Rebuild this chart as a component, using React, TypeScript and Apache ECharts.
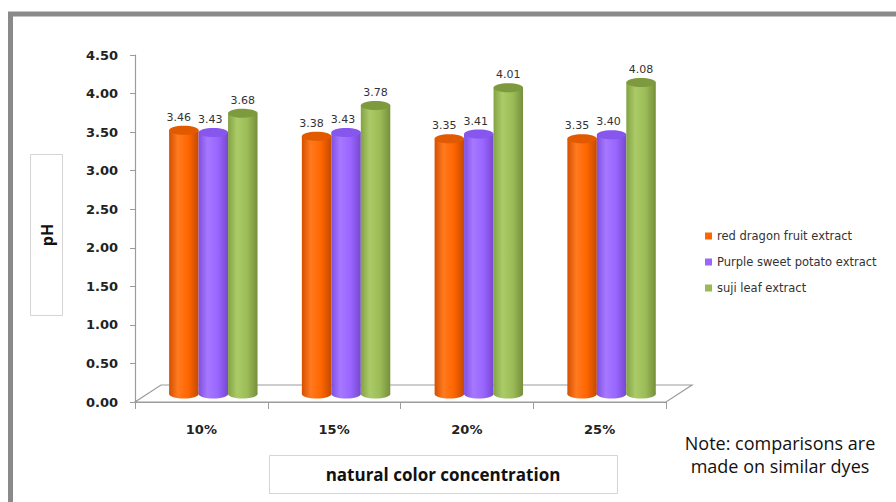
import React, { useEffect, useRef } from 'react';
import * as echarts from 'echarts';

const categories = ['10%', '15%', '20%', '25%'];
const seriesNames = ['red dragon fruit extract', 'Purple sweet potato extract', 'suji leaf extract'];
const redDragon = [3.46, 3.38, 3.35, 3.35];
const purplePotato = [3.43, 3.43, 3.41, 3.40];
const sujiLeaf = [3.68, 3.78, 4.01, 4.08];
const seriesValues = [redDragon, purplePotato, sujiLeaf];
const yAxisTitle = 'pH';
const xAxisTitle = 'natural color concentration';
const noteText = 'Note: comparisons are\nmade on similar dyes';

const colors = ['#FF6600', '#9966FF', '#99BB55'];
const bodyStops = [
  ['#D45000', '#FF7A1F', '#FF6600', '#C44A00'],
  ['#7F4FE0', '#A678FF', '#9966FF', '#7748D0'],
  ['#83A244', '#ABCB68', '#9CBC58', '#768F3B'],
];
const topColors = ['#E25A00', '#8656EE', '#7D9B3E'];
const labelDx = [-5, -3, 0];

function cylinderRenderer(s: number) {
  return (params: any, api: any) => {
    const idx = api.value(0);
    const v = api.value(1);
    const base = api.coord([idx, 0]);
    const top = api.coord([idx, v]);
    const band = api.size([1, 0])[0];
    const w = band * 0.222;
    const groupC = base[0] + band * 0.09;
    const cx = groupC + (s - 1) * w;
    const x0 = cx - w / 2;
    const yTop = top[1] - 5;
    const yBot = base[1] - 8;
    const ry = 4.5;
    const st = bodyStops[s];
    const grad = new echarts.graphic.LinearGradient(0, 0, 1, 0, [
      { offset: 0, color: st[0] },
      { offset: 0.3, color: st[1] },
      { offset: 0.65, color: st[2] },
      { offset: 1, color: st[3] },
    ]);
    return {
      type: 'group',
      children: [
        { type: 'rect', shape: { x: x0, y: yTop, width: w, height: yBot - yTop }, style: { fill: grad } },
        { type: 'ellipse', shape: { cx, cy: yBot, rx: w / 2, ry }, style: { fill: grad } },
        { type: 'ellipse', shape: { cx, cy: yTop, rx: w / 2, ry }, style: { fill: topColors[s] } },
        {
          type: 'text',
          style: {
            text: Number(v).toFixed(2),
            x: cx + labelDx[s],
            y: yTop - 13,
            align: 'center',
            verticalAlign: 'middle',
            fontSize: 11,
            fontFamily: 'DejaVu Sans',
            fill: '#333',
          },
        },
      ],
    };
  };
}

function floorRenderer(params: any, api: any) {
  const cs = params.coordSys;
  const y0 = api.coord([0, 0])[1];
  const xl = cs.x;
  const xr = cs.x + cs.width;
  const dx = 26;
  const dy = -17;
  return {
    type: 'polygon',
    shape: { points: [[xl, y0], [xr, y0], [xr + dx, y0 + dy], [xl + dx, y0 + dy]] },
    style: { fill: '#fff', stroke: '#9c9c9c', lineWidth: 1.2 },
    silent: true,
  };
}

export default function App() {
  const ref = useRef<HTMLDivElement>(null);
  useEffect(() => {
    if (!ref.current) return;
    const chart = echarts.init(ref.current, null, { renderer: 'svg' });
    const option: any = {
      animation: false,
      backgroundColor: '#fff',
      color: colors,
      grid: { left: 135, right: 230, top: 55, bottom: 100, containLabel: false },
      legend: {
        orient: 'vertical',
        left: 700,
        top: 225,
        icon: 'rect',
        itemWidth: 7,
        itemHeight: 7,
        itemGap: 14,
        data: seriesNames,
        textStyle: { fontSize: 11.5, fontFamily: 'DejaVu Sans', color: '#333' },
      },
      xAxis: {
        type: 'category',
        data: categories,
        axisLine: { show: true, lineStyle: { color: '#9c9c9c', width: 1.2 } },
        axisTick: { show: true, length: 7, lineStyle: { color: '#9c9c9c' } },
        axisLabel: { fontSize: 13, fontWeight: 'bold', fontFamily: 'DejaVu Sans', color: '#222', margin: 21 },
        splitLine: { show: false },
      },
      yAxis: {
        type: 'value',
        min: 0,
        max: 4.5,
        interval: 0.5,
        axisLine: { show: true, lineStyle: { color: '#9c9c9c', width: 1.2 } },
        axisTick: { show: true, length: 5, lineStyle: { color: '#9c9c9c' } },
        axisLabel: {
          fontSize: 13,
          fontWeight: 'bold',
          fontFamily: 'DejaVu Sans',
          color: '#222',
          margin: 17,
          formatter: (v: number) => v.toFixed(2),
        },
        splitLine: { show: false },
      },
      series: [
        {
          type: 'custom',
          name: 'floor',
          renderItem: floorRenderer,
          data: [[0, 0]],
          silent: true,
          z: 1,
          legendHoverLink: false,
        },
        ...seriesValues.map((vals, s) => ({
          type: 'custom',
          name: seriesNames[s],
          itemStyle: { color: colors[s] },
          renderItem: cylinderRenderer(s),
          encode: { x: 0, y: 1 },
          data: vals.map((v, i) => [i, v]),
          z: 2 + s,
        })),
      ],
      graphic: [
        {
          type: 'rect',
          shape: { x: 10.5, y: 14, width: 1000, height: 600 },
          style: { fill: 'none', stroke: '#8a8a8a', lineWidth: 5 },
          silent: true,
        },
        {
          type: 'rect',
          shape: { x: 30.5, y: 154.5, width: 32, height: 161 },
          style: { fill: '#fff', stroke: '#d4d4d4', lineWidth: 1 },
        },
        {
          type: 'text',
          x: 47,
          y: 235,
          rotation: Math.PI / 2,
          style: {
            text: yAxisTitle,
            align: 'center',
            verticalAlign: 'middle',
            fontSize: 16,
            fontWeight: 'bold',
            fontFamily: 'Open Sans',
            fill: '#111',
          },
        },
        {
          type: 'rect',
          shape: { x: 269.5, y: 455.5, width: 348, height: 38 },
          style: { fill: '#fff', stroke: '#d4d4d4', lineWidth: 1 },
        },
        {
          type: 'text',
          x: 443,
          y: 474,
          style: {
            text: xAxisTitle,
            align: 'center',
            verticalAlign: 'middle',
            fontSize: 17,
            fontWeight: 'bold',
            fontFamily: 'Open Sans',
            fill: '#111',
          },
        },
        {
          type: 'text',
          x: 780,
          y: 454,
          style: {
            text: noteText,
            align: 'center',
            verticalAlign: 'middle',
            fontSize: 18,
            lineHeight: 23,
            fontFamily: 'Open Sans',
            fill: '#111',
          },
        },
      ],
    };
    chart.setOption(option);
    return () => chart.dispose();
  }, []);
  return <div ref={ref} style={{ position: 'fixed', left: 0, top: 0, width: 896, height: 502 }} />;
}
